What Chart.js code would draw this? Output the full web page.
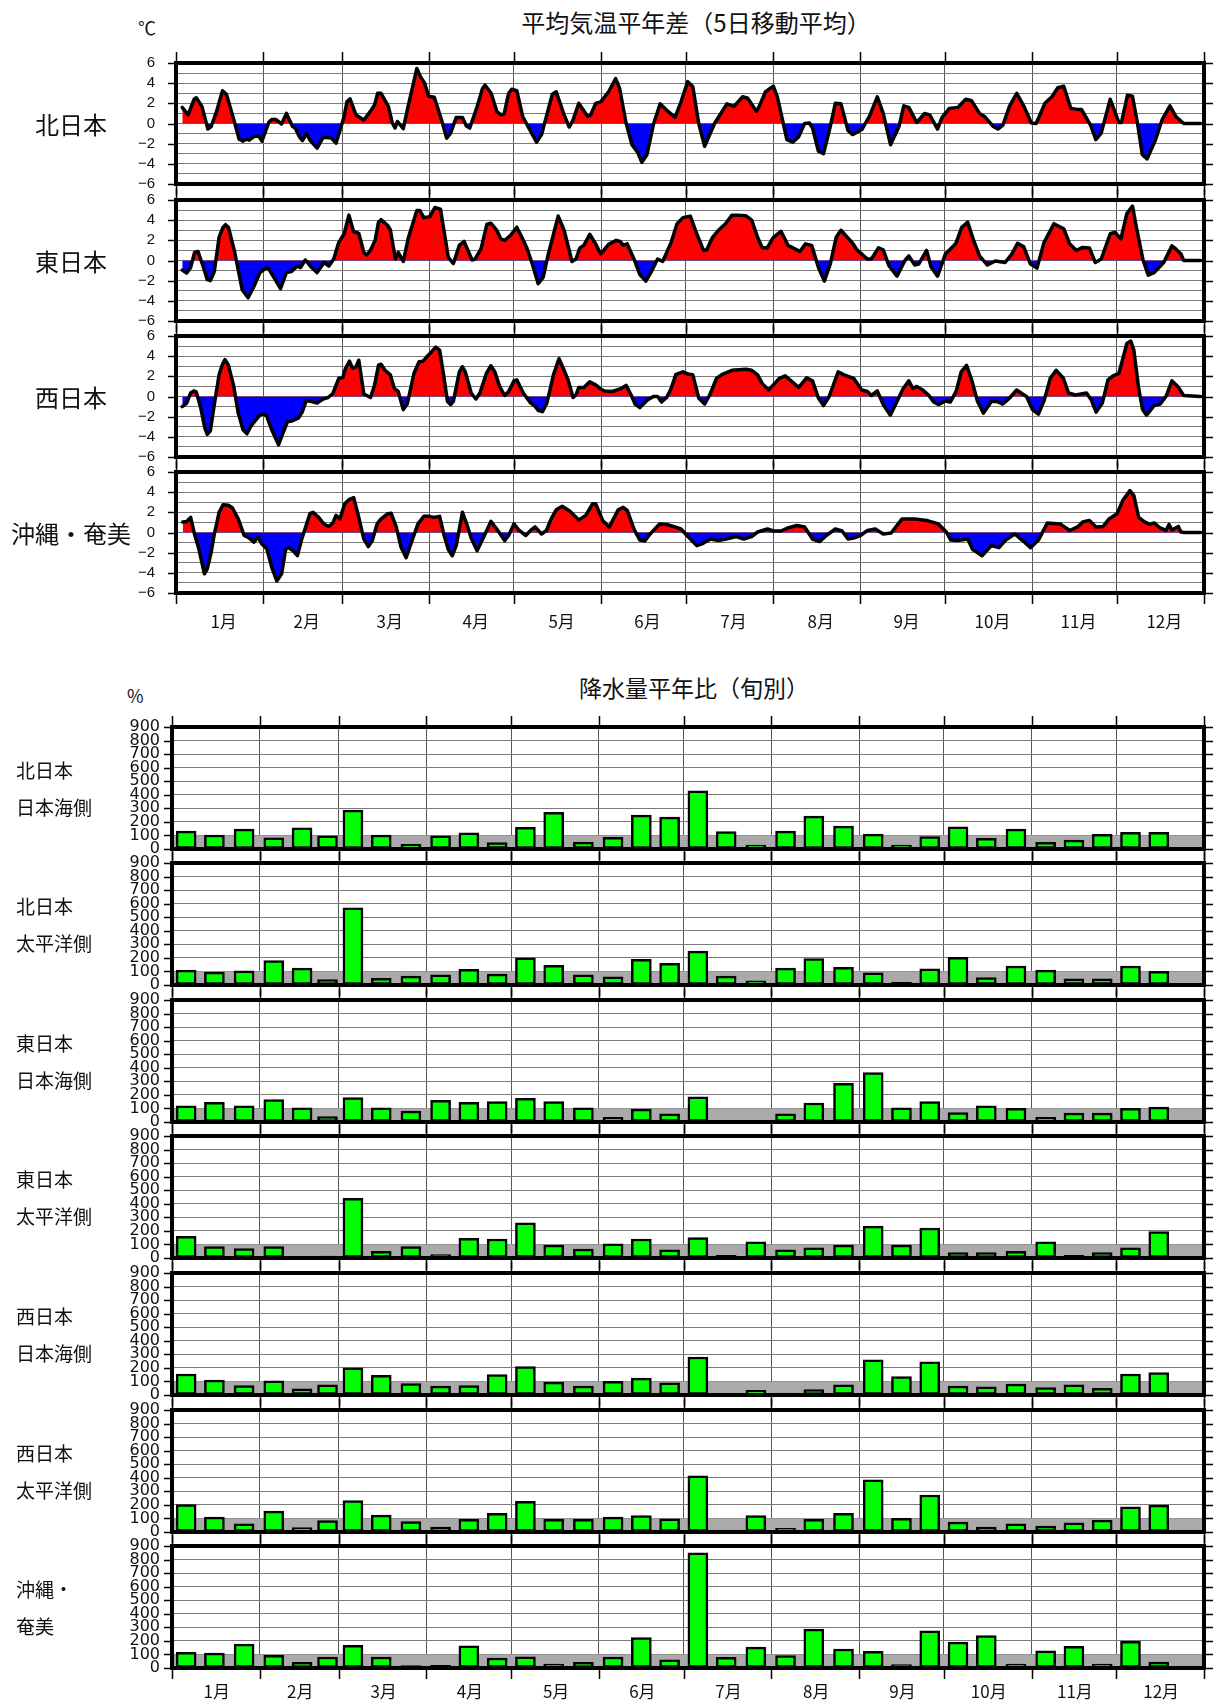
<!DOCTYPE html>
<html lang="ja">
<head>
<meta charset="utf-8">
<title>平均気温平年差・降水量平年比</title>
<script src="https://cdn.jsdelivr.net/npm/chart.js@4.4.1/dist/chart.umd.min.js"></script>
<style>
  body { margin: 0; background: #fff; }
  #page { position: relative; width: 1216px; height: 1706px; overflow: hidden; font-family: "Noto Sans CJK JP", sans-serif; color: #111; }
  #page canvas { position: absolute; left: 0; }
  .txt { position: absolute; white-space: nowrap; line-height: 1; }
</style>
</head>
<body>
<div id="page"></div>
<script>
// 月
const months = ['1月', '2月', '3月', '4月', '5月', '6月', '7月', '8月', '9月', '10月', '11月', '12月'];
const monthLen = [31, 28, 31, 30, 31, 30, 31, 31, 30, 31, 30, 31];

// 平均気温平年差（5日移動平均）: 通日と平年差(℃)
const tempRegions = ['北日本', '東日本', '西日本', '沖縄・奄美'];
const tempLabels = [-6, -4, -2, 0, 2, 4, 6];

const kitaDay = [2.2,4.3,6.4,7.2,9.2,11.3,12.5,14.4,16.5,17.9,20.4,22.4,23.8,24.9,26,27.7,29.4,30.5,33,34,35.4,37.5,39.2,41.4,42.3,43.9,44.9,46.3,47.7,50.1,52.3,53.2,55.2,56.8,58.2,59.7,60.7,61.8,63.9,66.7,69,70.5,71.6,72.8,75.4,76.8,77.8,78.6,80.7,82.4,83.5,85.5,86.9,88.3,89.7,91.7,94.3,96.1,97.5,99.5,101.7,103.1,104.3,106.9,108.8,109.7,111.9,114,115.5,116.5,118.1,119.2,121,123.1,124.5,128,129.8,133.6,135,137.8,139.6,140.9,143,146.2,147.2,149,150.8,153.6,156.1,157.5,159.8,161.9,164,165.4,167.2,169.6,171.9,174.7,177.2,179.3,181.7,183.5,185.6,187.7,191.2,195.6,198.1,201.2,203,206.1,206.9,209.3,212.1,213.5,216.9,219,221.1,223.2,224.9,226,228.1,229.9,232.3,234.1,236.1,238.6,240.2,243.5,246.2,249,251.1,253.7,256.7,258.4,260.2,263,265.8,267.6,270.4,272,274.6,277.6,280.4,282.5,285.3,287.1,290.2,291.8,293.6,296,298.5,301,303.7,305.4,308.5,311,313.1,315.2,317.7,320.1,321.5,324.7,326.6,328.5,331.7,334.8,335.7,337.8,339.6,341.4,343.1,344.8,347.6,350.1,352.9,355,357.8,363.8];
const kitaVal = [1.6,0.85,2.4,2.55,1.7,-0.55,-0.3,1.2,3.25,2.9,0.5,-1.55,-1.75,-1.55,-1.65,-1.3,-1.25,-1.75,0.15,0.4,0.4,-0.05,1.0,-0.3,-0.45,-1.35,-1.7,-1.0,-1.7,-2.45,-1.35,-1.4,-1.45,-1.95,-0.7,0.7,2.15,2.45,0.85,0.35,1.2,1.85,3.0,3.0,1.7,0.05,-0.45,0.2,-0.5,1.7,3.0,5.45,4.6,4.0,2.7,2.6,0.35,-1.45,-0.95,0.6,0.6,-0.25,-0.45,1.65,3.45,3.8,3.0,1.15,0.85,0.95,3.0,3.4,3.25,0.7,-0.05,-1.85,-1.1,2.9,3.15,0.85,-0.35,0.3,2.0,0.7,0.85,2.0,2.15,3.15,4.45,3.5,0.05,-2.1,-2.9,-3.85,-3.1,0,1.95,1.2,0.6,2.15,4.15,3.65,0,-2.25,0,1.95,1.7,2.65,2.5,1.2,1.6,3.15,3.7,2.65,-1.6,-1.85,-1.3,0,0.05,-0.45,-2.75,-3.0,-0.3,2.0,1.95,-0.7,-1.1,-0.6,0.7,2.65,1.0,-2.1,-0.3,1.75,1.6,0.1,1.0,0.85,-0.55,0.6,1.5,1.6,2.4,2.25,1.0,0.7,-0.3,-0.55,-0.15,1.75,3.0,1.75,0.05,0,2.0,2.65,3.55,3.7,1.5,1.4,1.4,-0.15,-1.6,-0.95,2.4,0.1,0.1,2.8,2.7,0,-3.1,-3.5,-1.75,0.35,1.75,0.7,0,0];

const higashiDay = [2.2,3.8,5.2,6.6,7.8,9.7,11.1,12.2,13.6,15.3,16.7,17.6,18.6,20.7,23.5,25.6,27.7,29.8,30.9,32.6,34.7,37.1,39.2,41,43.1,44.2,45.9,48,50.1,52.6,54.3,56,57.8,59.7,61.4,63,64.9,66.7,67.7,69.1,70.7,71.9,72.8,75.1,76.1,77.9,78.9,80.7,82.4,85.5,86.6,88,90.1,91.9,93.9,96.7,98.5,100.6,102.3,105.1,106.2,108.3,110.4,111.8,113.9,115.3,116.7,118.8,121,122.8,124.5,126.5,128.6,130.4,132.2,135.7,137.8,140.6,142,143.4,144.8,146.9,149,150.8,153.6,156.3,157.7,158.8,160.2,162.6,164.7,166.8,168.9,171,172.8,175.8,177.9,180,182.6,184.9,187.3,188.4,190.5,192.6,195.1,197.4,199.5,202.3,204.4,206.5,208.1,209.9,212.1,214.8,217.3,219.7,221.5,223.5,225.7,228.1,230.2,232.3,234.4,236.1,240,242,245.5,246.9,249.4,251.1,253.2,256,258.8,260.2,262.3,263.7,266.5,268.1,270.4,273.2,276.9,279,281.1,283.2,285.3,288.1,290.9,294.4,296.8,298.8,301,303.4,305.7,308.2,311.7,315.2,317.3,319.7,321.9,324.3,326.4,328.5,331.7,333.4,335.5,337.6,339.6,341,343.4,345.2,347.3,350.7,353.6,355,356.8,357.8,363.8];
const higashiVal = [-0.95,-1.25,-0.7,0.8,0.9,-0.65,-1.9,-2.0,-1.1,2.3,3.3,3.55,3.3,1.0,-2.9,-3.7,-2.55,-1.2,-0.95,-0.7,-1.65,-2.8,-1.2,-1.1,-0.55,-0.7,0.05,-0.65,-1.2,-0.2,-0.55,0.15,1.8,2.65,4.5,2.9,2.7,0.8,0.55,1.05,2.0,3.8,4.05,3.5,3.05,0.15,0.8,-0.1,2.15,4.95,4.95,4.25,4.35,5.25,5.1,0.3,-0.3,1.5,1.9,0.05,0.15,1.15,3.6,3.7,3.0,2.15,2.0,2.5,3.3,2.3,1.3,-0.35,-2.3,-1.65,0.65,4.4,3.0,-0.1,0.15,1.25,1.5,2.6,1.65,0.65,1.6,2.0,1.9,1.5,1.65,0.15,-1.4,-2.05,-1.05,0.15,-0.1,1.8,3.65,4.25,4.4,2.65,1.0,1.05,2.3,3.0,3.65,4.5,4.5,4.45,4.0,2.3,1.3,1.25,2.3,2.9,1.5,1.15,0.9,1.65,1.5,-0.7,-2.05,-0.35,2.3,3.0,1.8,1.0,0.15,0.15,1.25,1.05,-0.55,-1.55,0,0.45,-0.45,-0.35,1.0,-0.65,-1.55,0.65,1.7,3.3,3.8,2.0,0.45,-0.45,-0.05,-0.2,0.65,1.7,1.35,-0.35,-0.75,1.8,3.65,3.15,1.65,1.0,1.3,1.25,-0.2,0.15,2.65,2.8,2.15,4.65,5.4,3.3,0,-1.45,-1.2,-0.2,1.45,1.15,0.65,0,0];

const nishiDay = [2.2,3.8,5.2,6.3,7.2,8.8,10.2,11.1,12.2,13.6,15.3,16.5,17.4,18.6,20.4,22.1,23.8,25.2,26.6,28,29.8,31.2,32.2,34,36.4,37.8,39.6,41.4,43.4,44.8,46.2,47.5,50.1,52.2,54,55.7,57.8,59.2,60.2,61.6,62.7,63.9,64.9,66.7,69.1,70.5,71.9,72.8,74.2,76.1,77.5,78.9,80.7,82.1,84.5,86.3,87.7,89.4,90.8,92.2,93.6,95,96.4,97.5,98.5,100.6,101.7,102.7,104.8,106.5,107.9,110.2,111.8,113.2,114.9,116.7,118.1,120,121,123.3,125.9,127.3,128.7,130.1,131.7,134,136,137.8,139.2,141,142,143,144.8,146.9,149,150.8,152.1,154.9,157.7,159.8,161.6,163,164.7,167.4,169.5,171,172.4,174.2,175.8,177.5,180,182.1,183.5,185.6,187.7,189.5,191.9,194,197.4,202.3,204.4,206.5,208.1,210.4,212.1,214.2,216.3,219,221.1,223.9,226,228.1,229.9,231.9,235.1,237.2,240.6,243.5,245.5,246.9,249,251.1,253.6,256,258.1,260.2,261.6,263,265.1,267.2,269,270.7,273.2,274.9,277,278.8,280.7,282.5,284.6,286.7,289.5,291.6,293.6,296,298.5,300.6,302,304.1,306.2,308.3,310.4,312.5,315,316.9,319.4,323.3,325,326.7,328.9,330.9,332.7,334.8,336.5,337.6,339,340.1,341.8,343.2,344.6,347.3,349.4,351.5,353.6,355.7,357.8,363.8];
const nishiVal = [-1.0,-0.65,0.35,0.55,0.45,-1.15,-3.1,-3.75,-3.4,-0.8,2.15,3.2,3.65,3.1,1.15,-1.65,-3.3,-3.7,-2.95,-2.45,-1.85,-1.75,-1.95,-3.3,-4.8,-3.75,-2.5,-2.4,-2.15,-1.55,-0.45,-0.45,-0.65,-0.25,-0.1,0.3,1.8,1.85,2.8,3.5,2.8,2.95,3.6,0.25,-0.1,1.15,3.1,3.2,2.6,2.15,0.8,0.5,-1.3,-0.75,2.3,3.45,3.5,4.05,4.45,4.9,4.6,2.15,-0.5,-0.8,-0.45,2.45,2.95,2.45,0.35,-0.25,0.35,2.3,3.05,2.45,1.0,0.1,0.5,1.55,1.65,0.35,-0.65,-0.9,-1.4,-1.5,-0.65,2.15,3.75,2.6,1.65,-0.1,0.15,0.9,0.9,1.45,1.15,0.75,0.55,0.5,0.75,1.1,0.15,-0.75,-1.1,-0.35,0,0,-0.55,-0.1,0.8,2.2,2.45,2.2,2.15,-0.15,-0.75,0.15,1.8,2.2,2.6,2.7,2.6,2.15,1.3,0.65,1.15,1.8,2.05,1.4,0.9,1.85,1.55,-0.15,-0.9,0,2.45,2.15,1.8,0.65,0.5,0.1,0.55,-0.8,-1.85,-0.5,0.75,1.55,0.8,1.0,0.65,0.15,-0.55,-0.8,-0.45,-0.55,0.5,2.45,3.1,1.65,-0.5,-1.65,-0.5,-0.5,-0.75,-0.15,0.65,0.25,0,-1.3,-1.75,-0.35,1.8,2.6,1.85,0.35,0.15,0.35,-0.35,-1.55,-0.65,1.65,2.05,2.3,4.1,5.25,5.5,4.6,0.8,-1.3,-1.85,-0.9,-0.75,0,1.55,1.0,0.1,0];

const okiDay = [2.4,3.8,5.2,6.6,8,10.1,11.1,12.5,13.6,15.3,16.7,18.6,20,22.1,24.2,26,27.7,29.1,30.5,32.2,34,35.8,37.5,38.9,40,41.7,43.1,44.5,46.2,47.6,48.7,50.8,52.6,54.3,55.7,56.8,58.2,59.9,61.4,63.1,64.9,66.7,68.3,69.7,71.4,72.8,75.1,76.4,78.2,79.9,81.7,83.8,85.9,88,90.1,91.5,93.6,95.2,96.7,98.1,99.5,101.7,103.4,104.8,106.9,109,111.8,113.9,116.7,118.1,120,121.7,124.2,125.9,127.5,129.8,131.5,133.2,135,137.1,139.9,143,145.5,147.9,149,151.5,153.8,157,158.8,160.2,162.6,164.7,166.4,168.2,171.7,174.2,176.6,179.3,181.4,184.9,187,189.8,192.6,195.4,198.9,201.6,204.4,206.5,210,212.1,214.8,217.3,220.4,223.2,226,228.5,230.9,234.1,236.5,238.6,240.6,243,245.5,248.3,251.1,253.9,257.8,262.3,266.5,270.7,273.5,275.1,277.6,281.1,282.9,286.2,289.5,292.2,294.6,297.8,300.6,303.4,306.2,309.4,313.9,317.3,320.1,321.9,324.3,326.7,329.2,331.3,334.1,336.2,338.7,340.1,341.8,343.9,345.7,347.3,349.4,351.5,352.6,353.6,355.9,356.8,357.8,363.8];
const okiVal = [1.05,1.1,1.5,-0.2,-1.5,-4.1,-3.6,-1.95,-0.15,2.0,2.75,2.7,2.45,1.35,-0.3,-0.55,-0.95,-0.45,-1.15,-1.6,-3.45,-4.8,-4.1,-1.7,-1.5,-1.85,-2.3,-0.8,0.7,1.9,2.0,1.45,0.8,0.6,0.95,1.7,1.35,2.85,3.25,3.45,1.5,-0.65,-1.4,-0.8,0.85,1.35,1.85,1.9,0.55,-1.45,-2.5,-0.8,0.85,1.6,1.6,1.5,1.6,-0.3,-1.7,-2.3,-1.3,2.0,0.7,-0.55,-1.8,-0.6,1.1,0.35,-0.8,-0.3,0.85,0.25,-0.3,0.2,0.55,-0.15,0.2,1.35,2.25,2.6,2.1,1.25,1.7,2.85,2.85,1.2,0.55,2.25,2.5,2.2,0.35,-0.75,-0.85,-0.2,0.85,0.8,0.6,0.35,-0.3,-1.3,-1.1,-0.65,-0.8,-0.65,-0.4,-0.65,-0.4,0.05,0.35,0.15,0.15,0.45,0.7,0.55,-0.65,-0.9,-0.3,0.35,0.15,-0.65,-0.55,-0.3,0.2,0.35,-0.15,-0.05,1.35,1.35,1.2,0.85,0.05,-0.75,-0.8,-0.65,-1.7,-2.3,-1.3,-1.5,-0.75,-0.15,-0.8,-1.5,-0.75,0.95,0.85,0.2,0.55,1.05,1.2,0.55,0.6,1.35,1.85,3.2,4.15,3.65,1.5,1.05,0.8,0.95,0.45,0.2,0.8,0.25,0.6,0.05,0,0];

// 降水量平年比（旬別）%: 1月上旬 … 12月下旬
const rainRegions = [['北日本', '日本海側'], ['北日本', '太平洋側'], ['東日本', '日本海側'], ['東日本', '太平洋側'], ['西日本', '日本海側'], ['西日本', '太平洋側'], ['沖縄・', '奄美']];
const rainLabels = [0, 100, 200, 300, 400, 500, 600, 700, 800, 900];
const normalPct = 100;

const kitaNihonkai = [132,103,147, 83,157,98, 287,103,34, 98,120,47, 160,270,51, 86,250,235, 429,128,29, 132,243,169, 110,29,91, 164,78,147, 49,66,108, 123,123,7];
const kitaTaiheiyo = [110,95,105, 180,125,40, 570,50,65, 75,115,80, 200,145,75, 60,190,160, 250,65,30, 125,195,130, 90,20,120, 205,55,140, 110,45,45, 140,100,5];
const higashiNihonkai = [120,145,120, 165,105,40, 180,105,80, 160,145,150, 175,150,105, 35,95,60, 185,5,5, 60,140,285, 365,105,150, 70,120,100, 35,65,65, 100,110,5];
const higashiTaiheiyo = [160,85,70, 85,10,15, 440,50,85, 25,145,140, 260,95,65, 105,140,60, 150,20,120, 60,75,95, 235,95,220, 40,40,50, 120,20,40, 75,195,5];
const nishiNihonkai = [155,110,70, 105,45,75, 200,145,85, 65,70,150, 210,95,65, 100,125,90, 280,5,35, 15,40,75, 260,135,245, 65,60,80, 55,75,50, 155,165,5];
const nishiTaiheiyo = [202,110,61, 154,32,85, 232,124,76, 37,93,137, 227,93,93, 110,122,98, 415,12,122, 27,93,137, 385,100,273, 73,37,61, 44,68,88, 185,198,8];
const okinawaAmami = [115,110,176, 93,42,81, 167,81,17, 20,164,74, 83,29,42, 81,225,61, 850,78,154, 91,287,140, 123,25,275, 191,240,29, 127,159,29, 196,44,7];

// 月の境目、月の中央、旬の中央（通日）
const monthStart = [0];
monthLen.forEach(l => monthStart.push(monthStart[monthStart.length - 1] + l));
const monthMid = monthLen.map((l, i) => monthStart[i] + l / 2);
const dekadMid = [];
monthLen.forEach((l, i) => {
  const s = monthStart[i];
  dekadMid.push(s + 5, s + 15, s + 20 + (l - 20) / 2);
});
const yearDays = monthStart[12];

const page = document.getElementById('page');

function addText(str, left, centerY, size, center) {
  const d = document.createElement('div');
  d.className = 'txt';
  d.textContent = str;
  d.style.fontSize = size + 'px';
  d.style.left = left + 'px';
  d.style.top = (centerY - size / 2) + 'px';
  if (center) d.style.transform = 'translateX(-50%)';
  page.appendChild(d);
}

function addCanvas(top, height) {
  const c = document.createElement('canvas');
  c.width = 1216;
  c.height = height;
  c.style.top = top + 'px';
  page.appendChild(c);
  return c;
}

// 枠線と外側の目盛り
const framePlugin = {
  id: 'frame',
  afterDatasetsDraw(chart, args, opts) {
    const { ctx, chartArea: a, scales } = chart;
    ctx.save();
    ctx.strokeStyle = '#000';
    ctx.lineWidth = 1.5;
    ctx.beginPath();
    monthStart.forEach(d => {
      const x = Math.round(scales.x.getPixelForValue(d)) + 0.5;
      ctx.moveTo(x, a.top - 11); ctx.lineTo(x, a.top);
      ctx.moveTo(x, a.bottom); ctx.lineTo(x, a.bottom + 11);
    });
    opts.marks.forEach(v => {
      const y = Math.round(scales.y.getPixelForValue(v)) + 0.5;
      ctx.moveTo(a.left - 8, y); ctx.lineTo(a.left, y);
      ctx.moveTo(a.right, y); ctx.lineTo(a.right + 9, y);
    });
    ctx.stroke();
    ctx.lineWidth = 4;
    ctx.strokeRect(a.left, a.top, a.right - a.left, a.bottom - a.top);
    ctx.restore();
  }
};

// 平年並の帯（0〜100%）
const bandPlugin = {
  id: 'band',
  beforeDatasetsDraw(chart) {
    const { ctx, chartArea: a, scales } = chart;
    const y1 = scales.y.getPixelForValue(normalPct);
    const y0 = scales.y.getPixelForValue(0);
    ctx.save();
    ctx.fillStyle = '#aaaaaa';
    ctx.fillRect(a.left, y1, a.right - a.left, y0 - y1);
    ctx.restore();
  }
};

// ticks.padding は余白にも効くので、透明な目盛り線の長さでラベル位置を決める
function xScale(showLabels, height, gap, offset) {
  const tickVals = monthStart.concat(showLabels ? monthMid : []);
  return {
    type: 'linear', min: 0, max: yearDays, offset: false,
    afterBuildTicks: s => { s.ticks = tickVals.map(v => ({ value: v })); },
    afterFit: s => { s.height = height; },
    grid: {
      offset: false, drawTicks: true, tickLength: gap, tickColor: 'rgba(0,0,0,0)',
      color: c => (c.tick && monthStart.includes(c.tick.value)) ? '#555' : 'rgba(0,0,0,0)',
      lineWidth: 1
    },
    border: { display: false },
    ticks: {
      display: showLabels, autoSkip: false, maxRotation: 0, padding: 0, labelOffset: offset,
      color: '#111', font: { family: '"Noto Sans CJK JP"', size: 17 },
      callback: v => { const i = monthMid.indexOf(v); return i >= 0 ? months[i] : ''; }
    }
  };
}

function yScale(min, max, grid, width, gap, font, label) {
  return {
    min: min, max: max,
    afterBuildTicks: s => { s.ticks = grid.map(v => ({ value: v })); },
    afterFit: s => { s.width = width; },
    grid: { color: '#7a7a7a', lineWidth: 1, drawTicks: true, tickLength: gap, tickColor: 'rgba(0,0,0,0)' },
    border: { display: false },
    ticks: { autoSkip: false, padding: 0, color: '#111', font: font, callback: label }
  };
}

const baseOpts = {
  responsive: false, maintainAspectRatio: false, animation: false, devicePixelRatio: 1, events: []
};

// 気温パネル
const tempTop = [63, 200, 336, 472];
const tempH = 121;
const tempGrid = [];
for (let v = -6; v <= 6; v++) tempGrid.push(v);

function tempChart(i, days, vals) {
  const last = i === tempTop.length - 1;
  const below = last ? 48 : 12;
  const cv = addCanvas(tempTop[i] - 12, 12 + tempH + below);
  new Chart(cv, {
    type: 'line',
    data: {
      datasets: [{
        data: days.map((d, k) => ({ x: d, y: vals[k] })),
        borderColor: '#000', borderWidth: 3.5, borderJoinStyle: 'round', borderCapStyle: 'round',
        pointRadius: 0, tension: 0,
        fill: { target: { value: 0 }, above: '#ff0000', below: '#0000ff' }
      }]
    },
    options: Object.assign({}, baseOpts, {
      layout: { padding: { top: 12, right: 12 } },
      plugins: { legend: { display: false }, tooltip: { enabled: false }, frame: { marks: tempLabels } },
      scales: {
        x: xScale(last, below, 18, 4),
        y: yScale(-6, 6, tempGrid, 176, 21,
          { family: '"Liberation Sans", Arial, sans-serif', size: 15 },
          v => tempLabels.includes(v) ? String(v).replace('-', '\u2212') : '')
      }
    }),
    plugins: [framePlugin]
  });
  addText(tempRegions[i], 71, tempTop[i] + tempH / 2, 24, true);
}

// 降水量パネル
const rainTop = [727, 863, 1000, 1136, 1273, 1410, 1546];
const rainH = 122;

function rainChart(i, vals) {
  const last = i === rainTop.length - 1;
  const below = last ? 38 : 12;
  const cv = addCanvas(rainTop[i] - 12, 12 + rainH + below);
  new Chart(cv, {
    type: 'bar',
    data: {
      datasets: [{
        data: dekadMid.map((d, k) => ({ x: d, y: vals[k] })),
        backgroundColor: '#00ff00', borderColor: '#000', borderWidth: 2.5,
        borderSkipped: false, barThickness: 20
      }]
    },
    options: Object.assign({}, baseOpts, {
      layout: { padding: { top: 12, right: 12 } },
      plugins: { legend: { display: false }, tooltip: { enabled: false }, frame: { marks: rainLabels } },
      scales: {
        x: xScale(last, below, 13, 1),
        y: yScale(0, 900, rainLabels, 172, 12,
          { family: '"DejaVu Sans", sans-serif', size: 16 }, v => String(v))
      }
    }),
    plugins: [bandPlugin, framePlugin]
  });
  addText(rainRegions[i][0], 16, rainTop[i] + 42, 19, false);
  addText(rainRegions[i][1], 16, rainTop[i] + 79, 19, false);
}

addText('平均気温平年差（5日移動平均）', 696, 22, 24, true);
addText('℃', 138, 27, 18, false);
[[kitaDay, kitaVal], [higashiDay, higashiVal], [nishiDay, nishiVal], [okiDay, okiVal]]
  .forEach((r, i) => tempChart(i, r[0], r[1]));

addText('降水量平年比（旬別）', 694, 687, 23, true);
addText('%', 127, 695, 18, false);
[kitaNihonkai, kitaTaiheiyo, higashiNihonkai, higashiTaiheiyo, nishiNihonkai, nishiTaiheiyo, okinawaAmami]
  .forEach((v, i) => rainChart(i, v));
</script>
</body>
</html>
